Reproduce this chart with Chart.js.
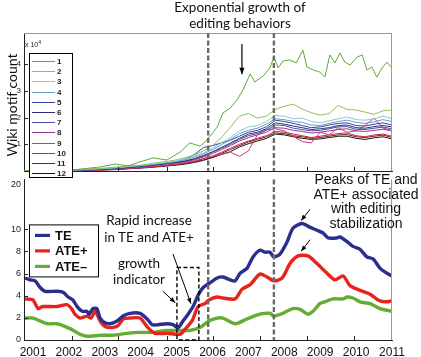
<!DOCTYPE html>
<html>
<head>
<meta charset="utf-8">
<script src="https://cdn.jsdelivr.net/npm/chart.js@4.4.1/dist/chart.umd.min.js"></script>
<style>
  body { margin: 0; background: #fff; }
  #wrap { position: relative; width: 421px; height: 357px; overflow: hidden; }
  canvas { position: absolute; left: 0; }
  .note { position: absolute; white-space: nowrap; text-align: center; color: #111; transform: translateX(-50%); }
  .cal { font-family: Lato, "Open Sans", sans-serif; }
  .ari { font-family: "Liberation Sans", Arial, sans-serif; }
</style>
</head>
<body>
<div id="wrap">
  <canvas id="bottom" width="421" height="186" style="top:171px"></canvas>
  <canvas id="top" width="421" height="180" style="top:0"></canvas>

  <div class="note cal" style="left:240px;top:0;font-size:13.5px;line-height:15.5px">Exponential growth of<br>editing behaviors</div>
  <div class="cal" style="position:absolute;left:11px;top:105px;transform:translate(-50%,-50%) rotate(-90deg);font-size:14px;white-space:nowrap;color:#111">Wiki motif count</div>
  <div class="ari" style="position:absolute;left:25px;top:38px;font-size:7px;line-height:8px;color:#222">x 10<sup style="font-size:5px">4</sup></div>
  <div class="note cal" style="left:149px;top:212px;font-size:13.5px;line-height:17px">Rapid increase<br>in TE and ATE+</div>
  <div class="note cal" style="left:139px;top:255px;font-size:13.5px;line-height:16px">growth<br>indicator</div>
  <div class="note ari" style="left:366px;top:172px;font-size:14px;line-height:14.5px">Peaks of TE and<br>ATE+ associated<br>with editing<br>stabilization</div>
</div>
<script>
// ---- top panel: wiki motif counts (x 10^4) ----
const topYears = [2000.75, 2001, 2001.25, 2001.5, 2001.75, 2002, 2002.25, 2002.5, 2002.75, 2003, 2003.25, 2003.5, 2003.75, 2004,
  2004.25, 2004.5, 2004.75, 2005, 2005.25, 2005.5, 2005.75, 2006, 2006.25, 2006.5, 2006.75, 2007, 2007.25, 2007.5,
  2007.75, 2008, 2008.25, 2008.5, 2008.75, 2009, 2009.25, 2009.5, 2009.75, 2010, 2010.25, 2010.5, 2010.75, 2011];

const motif1Years = [2000.75, 2001.5, 2002.09, 2002.87, 2003.28, 2003.65, 2003.98, 2004.34, 2004.73, 2005.10, 2005.37, 2005.65,
  2005.79, 2005.93, 2006.13, 2006.29, 2006.49, 2006.68, 2006.85, 2007.05, 2007.18, 2007.41, 2007.60, 2007.71, 2007.83,
  2007.96, 2008.16, 2008.33, 2008.52, 2008.63, 2008.80, 2008.99, 2009.13, 2009.27, 2009.41, 2009.55, 2009.69, 2009.83,
  2010.03, 2010.17, 2010.30, 2010.44, 2010.58, 2010.72, 2010.86, 2011.0];
const motif1 = [0.01, 0.02, 0.04, 0.15, 0.26, 0.19, 0.34, 0.49, 0.41, 0.71, 1.05, 0.93,
  1.08, 1.30, 1.64, 2.17, 2.35, 2.65, 3.03, 3.63, 3.33, 3.55, 3.85, 4.26, 3.85,
  4.11, 4.15, 4.04, 4.52, 3.89, 3.78, 3.70, 3.51, 4.34, 4.04, 4.41, 4.07, 3.96,
  4.26, 4.34, 3.78, 3.89, 3.51, 3.85, 4.07, 3.85];

const motif2 = [0.01, 0.01, 0.02, 0.02, 0.03, 0.03, 0.05, 0.07, 0.09, 0.11, 0.14, 0.17, 0.20, 0.22,
  0.27, 0.32, 0.36, 0.42, 0.50, 0.60, 0.75, 0.95, 1.25, 1.64, 2.05, 2.15, 1.98, 2.05,
  2.30, 2.42, 2.50, 2.32, 2.18, 2.09, 2.15, 2.45, 2.30, 2.28, 2.20, 2.12, 2.25, 2.28];
const motif3 = [0.01, 0.01, 0.02, 0.02, 0.03, 0.03, 0.04, 0.06, 0.08, 0.10, 0.12, 0.15, 0.18, 0.21,
  0.25, 0.29, 0.33, 0.38, 0.45, 0.55, 0.68, 0.85, 1.05, 1.25, 1.50, 1.65, 1.70, 1.85,
  2.08, 2.05, 1.95, 1.98, 1.85, 1.80, 1.88, 1.95, 2.02, 1.92, 1.90, 1.95, 2.05, 1.95];
const motif4 = [0.01, 0.01, 0.01, 0.02, 0.02, 0.03, 0.04, 0.05, 0.07, 0.09, 0.11, 0.14, 0.17, 0.20,
  0.23, 0.27, 0.31, 0.36, 0.42, 0.52, 0.64, 0.80, 0.98, 1.18, 1.40, 1.52, 1.60, 1.75,
  1.95, 1.92, 1.85, 1.82, 1.72, 1.70, 1.78, 1.85, 1.90, 1.82, 1.78, 1.84, 1.92, 1.85];
const motif5 = [0.01, 0.01, 0.01, 0.02, 0.02, 0.03, 0.04, 0.05, 0.06, 0.08, 0.10, 0.13, 0.16, 0.19,
  0.22, 0.26, 0.30, 0.35, 0.45, 0.62, 0.88, 0.95, 1.05, 1.15, 1.30, 1.45, 1.52, 1.65,
  1.90, 1.85, 1.78, 1.70, 1.62, 1.65, 1.72, 1.78, 1.80, 1.70, 1.68, 1.75, 1.80, 1.72];
const motif6 = [0.01, 0.01, 0.01, 0.02, 0.02, 0.02, 0.03, 0.04, 0.06, 0.07, 0.09, 0.12, 0.15, 0.18,
  0.21, 0.25, 0.29, 0.33, 0.38, 0.46, 0.58, 0.72, 0.88, 1.05, 1.22, 1.38, 1.45, 1.58,
  1.80, 1.75, 1.68, 1.62, 1.55, 1.58, 1.62, 1.70, 1.72, 1.62, 1.60, 1.66, 1.70, 1.65];
const motif7 = [0.01, 0.01, 0.01, 0.01, 0.02, 0.02, 0.03, 0.04, 0.05, 0.07, 0.09, 0.11, 0.14, 0.17,
  0.20, 0.24, 0.28, 0.32, 0.37, 0.45, 0.56, 0.70, 0.85, 1.00, 1.18, 1.32, 1.40, 1.52,
  1.72, 1.70, 1.60, 1.55, 1.50, 1.52, 1.58, 1.65, 1.66, 1.56, 1.55, 1.60, 1.64, 1.58];
const motif8 = [0.01, 0.01, 0.01, 0.01, 0.02, 0.02, 0.03, 0.04, 0.05, 0.06, 0.08, 0.10, 0.13, 0.16,
  0.19, 0.23, 0.26, 0.30, 0.35, 0.42, 0.52, 0.65, 0.80, 0.95, 1.12, 1.25, 1.35, 1.45,
  1.62, 1.60, 1.52, 1.48, 1.42, 1.45, 1.50, 1.55, 1.58, 1.50, 1.48, 1.52, 1.56, 1.50];
const motif9 = [0.01, 0.01, 0.01, 0.01, 0.02, 0.02, 0.03, 0.03, 0.04, 0.05, 0.07, 0.09, 0.11, 0.14,
  0.17, 0.20, 0.23, 0.27, 0.32, 0.38, 0.47, 0.55, 0.62, 0.70, 0.55, 0.75, 1.35, 1.55,
  1.58, 1.50, 1.30, 1.10, 1.05, 1.45, 1.35, 1.62, 1.45, 1.50, 1.70, 1.98, 1.60, 1.52];
const motif10 = [0.00, 0.01, 0.01, 0.01, 0.01, 0.02, 0.02, 0.03, 0.04, 0.05, 0.06, 0.08, 0.10, 0.12,
  0.15, 0.18, 0.21, 0.25, 0.30, 0.36, 0.45, 0.56, 0.70, 0.85, 1.00, 1.12, 1.22, 1.32,
  1.48, 1.45, 1.38, 1.32, 1.25, 1.30, 1.35, 1.40, 1.42, 1.32, 1.28, 1.35, 1.38, 1.30];
const motif11 = [0.00, 0.01, 0.01, 0.01, 0.01, 0.02, 0.02, 0.03, 0.04, 0.05, 0.06, 0.08, 0.10, 0.12,
  0.15, 0.17, 0.20, 0.24, 0.28, 0.34, 0.42, 0.52, 0.66, 0.80, 0.95, 1.08, 1.18, 1.28,
  1.42, 1.40, 1.32, 1.28, 1.22, 1.25, 1.30, 1.35, 1.36, 1.28, 1.25, 1.30, 1.34, 1.26];
const motif12 = [0.00, 0.00, 0.01, 0.01, 0.01, 0.01, 0.02, 0.03, 0.03, 0.04, 0.05, 0.07, 0.09, 0.11,
  0.13, 0.16, 0.19, 0.22, 0.26, 0.32, 0.40, 0.50, 0.62, 0.72, 0.90, 1.02, 1.12, 1.22,
  1.38, 1.35, 1.28, 1.22, 1.18, 1.20, 1.25, 1.30, 1.30, 1.22, 1.18, 1.24, 1.28, 1.20];

const motifLabels = ["1", "2", "3", "4", "5", "6", "7", "8", "9", "10", "11", "12"];
const motifColors = ["#5fa83a", "#8cc25a", "#86cbd0", "#6a9cc4", "#3a3fa8", "#2b2d7a",
  "#4a4aa0", "#8e3d8e", "#d8327e", "#d42828", "#701c2c", "#151515"];
const topTicks = [1, 2, 3, 4];

// ---- bottom panel: TE / ATE+ / ATE- ----
const teYears = [2000.78, 2000.92, 2001.06, 2001.20, 2001.33, 2001.67, 2001.84, 2001.98, 2002.11, 2002.23, 2002.37, 2002.50,
  2002.56, 2002.67, 2002.78, 2002.87, 2003.01, 2003.15, 2003.34, 2003.51, 2003.70, 2003.98, 2004.18, 2004.32, 2004.48,
  2004.73, 2004.90, 2005.04, 2005.18, 2005.32, 2005.46, 2005.60, 2005.74, 2005.90, 2006.13, 2006.29, 2006.49, 2006.63,
  2006.77, 2006.96, 2007.13, 2007.32, 2007.46, 2007.60, 2007.71, 2007.88, 2008.08, 2008.24, 2008.49, 2008.72, 2008.91,
  2009.08, 2009.22, 2009.47, 2009.55, 2009.75, 2009.91, 2010.11, 2010.30, 2010.47, 2010.67, 2010.86, 2011.0];
const teVals = [5.6, 5.43, 5.34, 4.74, 4.4, 4.4, 4.31, 3.88, 3.62, 3.02, 2.59, 2.59,
  2.33, 2.84, 2.84, 1.98, 1.55, 1.47, 1.72, 2.16, 2.41, 2.41, 1.9, 1.38, 1.38,
  1.47, 1.38, 1.12, 1.72, 2.33, 3.02, 4.05, 4.74, 5.1, 5.6, 5.69, 5.43, 5.34,
  6.03, 6.47, 7.5, 8.1, 7.93, 7.93, 7.5, 7.76, 8.88, 10.09, 10.52, 10.17, 9.91,
  9.66, 9.22, 9.22, 9.31, 8.88, 8.45, 8.19, 7.5, 7.33, 6.47, 6.03, 5.78];

const atePlusYears = [2000.78, 2001.0, 2001.14, 2001.28, 2001.67, 2001.95, 2002.09, 2002.17, 2002.31, 2002.50, 2002.62, 2002.73,
  2002.87, 2003.01, 2003.20, 2003.37, 2003.51, 2003.70, 2003.98, 2004.20, 2004.40, 2004.73, 2005.10, 2005.23, 2005.43,
  2005.60, 2005.79, 2005.90, 2006.13, 2006.29, 2006.63, 2006.82, 2007.05, 2007.32, 2007.52, 2007.71, 2007.94, 2008.16,
  2008.38, 2008.66, 2008.91, 2009.19, 2009.41, 2009.64, 2009.83, 2010.11, 2010.39, 2010.61, 2010.81, 2011.0];
const atePlusVals = [3.71, 3.62, 2.84, 3.02, 3.02, 3.19, 2.76, 2.33, 1.98, 2.16, 1.98, 2.59,
  1.72, 1.21, 1.12, 1.29, 1.9, 1.98, 1.98, 1.12, 0.6, 0.6, 0.52, 0.95, 1.72,
  3.02, 3.28, 3.62, 3.88, 3.79, 3.71, 4.57, 5.0, 5.95, 5.69, 5.34, 5.6, 6.9,
  7.59, 7.59, 6.9, 6.03, 5.43, 5.78, 4.91, 4.48, 4.14, 3.62, 3.45, 3.53];

const ateMinusYears = [2000.78, 2001.0, 2001.39, 2001.67, 2002.03, 2002.31, 2002.50, 2002.87, 2003.23, 2003.62, 2003.98, 2004.34,
  2004.73, 2005.10, 2005.37, 2005.65, 2005.90, 2006.13, 2006.29, 2006.63, 2006.96, 2007.32, 2007.60, 2007.71, 2007.96,
  2008.24, 2008.44, 2008.66, 2008.80, 2008.99, 2009.13, 2009.36, 2009.64, 2009.75, 2009.91, 2010.11, 2010.39, 2010.67, 2011.0];
const ateMinusVals = [1.98, 1.98, 1.47, 1.47, 1.03, 0.52, 0.34, 0.43, 0.43, 0.6, 0.69, 0.69,
  0.86, 0.86, 0.86, 1.12, 1.72, 1.98, 1.98, 1.47, 1.9, 2.33, 2.41, 2.16, 2.41,
  2.84, 2.76, 2.33, 2.59, 3.28, 3.45, 3.71, 3.71, 3.88, 3.79, 3.45, 3.28, 2.84, 2.59];

const entropyLabels = ["TE", "ATE+", "ATE\u2013"];
const entropyColors = ["#2a2e8c", "#e8231d", "#63ad32"];

const yearTicks = [2001, 2002, 2003, 2004, 2005, 2006, 2007, 2008, 2009, 2010, 2011];
const tickMarkYears = [2002.09, 2003.37, 2004.73, 2006.01, 2007.32, 2008.63, 2009.94];
const bottomTicks = [0, 2, 4, 6, 8, 10, 14];
const bottomTickLabels = ["0", "2", "4", "6", "8", "10", "20"];
const phaseYears = [2005.88, 2007.71];

// annotation anchors, in data units
const growthBox = { from: 2005.01, to: 2005.62, top: 6.55 };
const topArrow = { x1: 2006.82, y1: 4.75, x2: 2006.82, y2: 3.62 };
const bottomArrows = [
  { x1: 2004.90, y1: 7.76, x2: 2005.40, y2: 3.28 },
  { x1: 2004.62, y1: 4.40, x2: 2004.96, y2: 3.36 },
  { x1: 2008.72, y1: 11.81, x2: 2008.47, y2: 10.78 },
  { x1: 2008.72, y1: 9.05, x2: 2008.47, y2: 8.02 },
];

const X_MIN = 2000.75, X_MAX = 2011;
const pts = (xs, ys) => xs.map((x, i) => ({ x, y: ys[i] }));

function arrow(ctx, x1, y1, x2, y2, head) {
  const ang = Math.atan2(y2 - y1, x2 - x1);
  ctx.beginPath(); ctx.moveTo(x1, y1); ctx.lineTo(x2, y2); ctx.stroke();
  ctx.beginPath();
  ctx.moveTo(x2, y2);
  ctx.lineTo(x2 - head * Math.cos(ang - 0.38), y2 - head * Math.sin(ang - 0.38));
  ctx.lineTo(x2 - head * Math.cos(ang + 0.38), y2 - head * Math.sin(ang + 0.38));
  ctx.closePath(); ctx.fill();
}

// frame, inward ticks, phase markers
const decor = {
  id: "decor",
  afterDatasetsDraw(chart, args, opts) {
    const { ctx, chartArea: a, scales: { x, y } } = chart;
    ctx.save();
    ctx.strokeStyle = "#999"; ctx.lineWidth = 1; ctx.setLineDash([]);
    ctx.beginPath();
    if (opts.topBorder) { ctx.moveTo(a.left, a.top + 0.5); ctx.lineTo(a.right, a.top + 0.5); }
    ctx.moveTo(a.right - 0.5, a.top); ctx.lineTo(a.right - 0.5, a.bottom);
    ctx.stroke();

    ctx.strokeStyle = "#222";
    ctx.beginPath();
    opts.yMarks.forEach((v) => {
      const py = Math.round(y.getPixelForValue(v)) + 0.5;
      ctx.moveTo(a.left, py); ctx.lineTo(a.left + 4, py);
    });
    tickMarkYears.forEach((v) => {
      const px = Math.round(x.getPixelForValue(v)) + 0.5;
      ctx.moveTo(px, a.bottom); ctx.lineTo(px, a.bottom - 4);
    });
    ctx.stroke();

    ctx.strokeStyle = "#6a6a6a"; ctx.lineWidth = 2.4; ctx.setLineDash([5, 2.5]);
    phaseYears.forEach((v) => {
      const px = x.getPixelForValue(v);
      ctx.beginPath(); ctx.moveTo(px, a.top); ctx.lineTo(px, a.bottom); ctx.stroke();
    });
    ctx.restore();
  },
};

const topNotes = {
  id: "topNotes",
  afterDraw(chart) {
    const { ctx, chartArea: a, scales: { x, y } } = chart;
    ctx.save();
    ctx.strokeStyle = "#000"; ctx.fillStyle = "#000"; ctx.lineWidth = 1.2;
    arrow(ctx, x.getPixelForValue(topArrow.x1), y.getPixelForValue(topArrow.y1),
      x.getPixelForValue(topArrow.x2), y.getPixelForValue(topArrow.y2), 7);
    // legend box
    const L = a.left + 5, T = a.top + 20, W = 43, H = 124;
    ctx.fillStyle = "#fff"; ctx.fillRect(L, T, W, H);
    ctx.strokeStyle = "#000"; ctx.lineWidth = 1; ctx.strokeRect(L + 0.5, T + 0.5, W, H);
    ctx.font = "bold 8px 'Liberation Sans', Arial, sans-serif";
    ctx.textBaseline = "middle";
    chart.data.datasets.forEach((ds, i) => {
      const ly = Math.round(T + 8 + i * 10.2) + 0.5;
      ctx.strokeStyle = ds.borderColor; ctx.lineWidth = 1;
      ctx.beginPath(); ctx.moveTo(L + 3, ly); ctx.lineTo(L + 26, ly); ctx.stroke();
      ctx.fillStyle = "#222"; ctx.fillText(ds.label, L + 28, ly);
    });
    ctx.restore();
  },
};

const bottomNotes = {
  id: "bottomNotes",
  afterDraw(chart) {
    const { ctx, chartArea: a, scales: { x, y } } = chart;
    ctx.save();
    ctx.strokeStyle = "#000"; ctx.lineWidth = 1.4; ctx.setLineDash([4, 2.5]);
    const bx1 = x.getPixelForValue(growthBox.from), bx2 = x.getPixelForValue(growthBox.to);
    const by1 = y.getPixelForValue(growthBox.top), by2 = y.getPixelForValue(0);
    ctx.strokeRect(bx1, by1, bx2 - bx1, by2 - by1);
    ctx.setLineDash([]); ctx.lineWidth = 1; ctx.fillStyle = "#000";
    bottomArrows.forEach((r) => arrow(ctx, x.getPixelForValue(r.x1), y.getPixelForValue(r.y1),
      x.getPixelForValue(r.x2), y.getPixelForValue(r.y2), 6));
    // legend box
    const L = a.left + 5, T = a.top + 45, W = 69, H = 52;
    ctx.fillStyle = "#fff"; ctx.fillRect(L, T, W, H);
    ctx.strokeStyle = "#000"; ctx.lineWidth = 1; ctx.strokeRect(L + 0.5, T + 0.5, W, H);
    ctx.font = "bold 13px 'Liberation Sans', Arial, sans-serif";
    ctx.textBaseline = "middle";
    chart.data.datasets.forEach((ds, i) => {
      const ly = T + 11 + i * 15.5;
      ctx.strokeStyle = ds.borderColor; ctx.lineWidth = 3.2;
      ctx.beginPath(); ctx.moveTo(L + 6, ly); ctx.lineTo(L + 21, ly); ctx.stroke();
      ctx.fillStyle = "#111"; ctx.fillText(ds.label, L + 26, ly + 1);
    });
    ctx.restore();
  },
};

const motifSeries = [motif2, motif3, motif4, motif5, motif6, motif7, motif8, motif9, motif10, motif11, motif12];
const topDatasets = [{ label: motifLabels[0], data: pts(motif1Years, motif1), borderColor: motifColors[0] }]
  .concat(motifSeries.map((vals, i) => ({ label: motifLabels[i + 1], data: pts(topYears, vals), borderColor: motifColors[i + 1] })))
  .map((ds) => Object.assign(ds, { borderWidth: 1, pointRadius: 0, tension: 0 }));

const tickFont = { family: "'Liberation Sans', Arial, sans-serif" };

new Chart(document.getElementById("top"), {
  type: "line",
  data: { datasets: topDatasets },
  options: {
    responsive: false, animation: false, events: [],
    layout: { padding: { left: 0, right: 29, top: 33, bottom: 9 } },
    plugins: { legend: { display: false }, tooltip: { enabled: false }, decor: { topBorder: true, yMarks: topTicks } },
    scales: {
      x: {
        type: "linear", min: X_MIN, max: X_MAX,
        ticks: { display: false }, grid: { display: false },
        border: { color: "#222", width: 1 },
        afterFit: (s) => { s.height = 0; },
      },
      y: {
        min: 0, max: 5.16,
        afterBuildTicks: (s) => { s.ticks = topTicks.map((v) => ({ value: v })); },
        ticks: { color: "#222", font: { ...tickFont, size: 8 }, padding: 3, callback: (v) => String(v) },
        grid: { display: false, drawTicks: false },
        border: { color: "#222", width: 1 },
        afterFit: (s) => { s.width = 24; },
      },
    },
  },
  plugins: [decor, topNotes],
});

new Chart(document.getElementById("bottom"), {
  type: "line",
  data: {
    datasets: [
      { label: entropyLabels[0], data: pts(teYears, teVals), borderColor: entropyColors[0] },
      { label: entropyLabels[1], data: pts(atePlusYears, atePlusVals), borderColor: entropyColors[1] },
      { label: entropyLabels[2], data: pts(ateMinusYears, ateMinusVals), borderColor: entropyColors[2] },
    ].map((ds) => Object.assign(ds, { borderWidth: 3.4, pointRadius: 0, tension: 0.25, borderJoinStyle: "round" })),
  },
  options: {
    responsive: false, animation: false, events: [],
    layout: { padding: { left: 0, right: 29, top: 1, bottom: 0 } },
    plugins: { legend: { display: false }, tooltip: { enabled: false }, decor: { topBorder: false, yMarks: bottomTicks.slice(0, 6) } },
    scales: {
      x: {
        type: "linear", min: X_MIN, max: X_MAX,
        afterBuildTicks: (s) => { s.ticks = yearTicks.map((v) => ({ value: v })); },
        ticks: { color: "#111", font: { ...tickFont, size: 12 }, padding: 5, maxRotation: 0, autoSkip: false, callback: (v) => String(v) },
        grid: { display: false, drawTicks: false },
        border: { color: "#222", width: 1 },
        afterFit: (s) => { s.height = 17; },
      },
      y: {
        min: 0, max: 14.5,
        afterBuildTicks: (s) => { s.ticks = bottomTicks.map((v) => ({ value: v })); },
        ticks: { color: "#222", font: { ...tickFont, size: 9 }, padding: 3, callback: (v, i) => bottomTickLabels[i] },
        grid: { display: false, drawTicks: false },
        border: { color: "#222", width: 1 },
        afterFit: (s) => { s.width = 24; },
      },
    },
  },
  plugins: [decor, bottomNotes],
});
</script>
</body>
</html>
